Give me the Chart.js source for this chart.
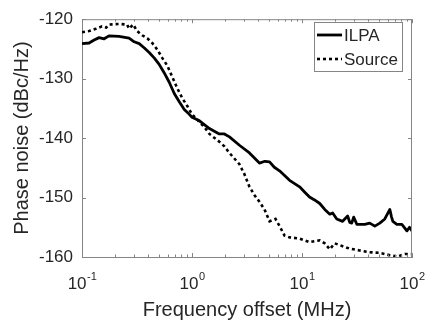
<!DOCTYPE html>
<html>
<head>
<meta charset="utf-8">
<script src="https://cdn.jsdelivr.net/npm/chart.js@4.4.1/dist/chart.umd.min.js"></script>
<style>
  html, body { margin: 0; padding: 0; background: #fff; }
  #wrap { width: 433px; height: 330px; }
</style>
</head>
<body>
<div id="wrap"><canvas id="pnChart" width="433" height="330"></canvas></div>
<script>
// data (MHz, dBc/Hz)
var freqILPA = [0.1, 0.116, 0.129, 0.143, 0.159, 0.176, 0.217, 0.268, 0.298, 0.331, 0.367, 0.408, 0.453, 0.503, 0.558, 0.621, 0.69, 0.766, 0.851, 0.945, 1.0, 1.17, 1.44, 1.77, 1.97, 2.19, 2.7, 3.33, 4.1, 4.6, 5.07, 5.6, 6.25, 7.71, 9.51, 10.6, 11.7, 13.0, 14.5, 16.1, 17.9, 19.0, 20.7, 23.4, 26.0, 27.2, 28.3, 29.5, 31.5, 37.2, 41.3, 45.9, 51.0, 56.6, 60.0, 62.9, 65.0, 67.0, 72.8, 80.9, 89.9, 95.0, 100]
var noiseILPA = [-124.1, -124.0, -123.5, -123.1, -123.3, -122.8, -122.9, -123.2, -123.8, -124.1, -124.8, -125.6, -126.5, -127.6, -129.0, -130.6, -132.5, -133.9, -135.2, -136.0, -136.5, -137.1, -138.4, -139.3, -139.3, -139.8, -141.2, -142.5, -144.2, -143.9, -144.0, -144.9, -145.5, -147.1, -148.2, -149.1, -149.9, -150.4, -151.0, -152.0, -152.8, -152.6, -153.6, -154.0, -153.1, -154.2, -154.3, -153.3, -154.5, -154.5, -154.3, -154.8, -154.3, -153.6, -152.7, -152.0, -153.2, -154.0, -154.5, -154.5, -155.6, -155.0, -155.6]

var freqSource = [0.1, 0.116, 0.134, 0.152, 0.166, 0.176, 0.217, 0.257, 0.268, 0.292, 0.317, 0.352, 0.392, 0.435, 0.483, 0.536, 0.596, 0.661, 0.734, 0.817, 0.906, 1.0, 1.29, 1.44, 1.77, 1.97, 2.19, 2.7, 3.0, 3.33, 3.7, 4.1, 4.56, 5.07, 5.74, 6.25, 6.94, 7.71, 9.51, 11.7, 14.5, 16.1, 17.9, 19.8, 22.0, 24.4, 27.2, 33.5, 41.3, 51.0, 62.9, 74.3, 86.1, 100]
var noiseSource = [-122.2, -122.0, -121.6, -121.2, -121.4, -120.9, -120.8, -120.9, -121.6, -120.9, -122.0, -122.7, -123.2, -124.0, -125.1, -126.5, -127.8, -129.7, -131.6, -133.3, -134.6, -136.0, -138.1, -139.3, -140.6, -141.4, -142.5, -144.4, -146.1, -148.2, -149.6, -150.7, -152.0, -154.0, -153.6, -154.8, -156.4, -156.7, -156.9, -157.5, -157.2, -157.7, -158.7, -157.7, -158.0, -158.3, -158.6, -158.9, -159.2, -159.3, -159.7, -159.9, -159.5, -159.5]

var xMajorTicks = [0.1, 1, 10, 100]
var xTickExponents = ["-1", "0", "1", "2"]
var yTicks = [-160, -150, -140, -130, -120]
var seriesNames = ["ILPA", "Source"]

var axisColor = "#858585"
var textColor = "#262626"
var fontFam = "'Liberation Sans', Arial, Helvetica, sans-serif"

function toPoints(xs, ys) {
  var pts = []
  for (var i = 0; i < xs.length; i++) pts.push({ x: xs[i], y: ys[i] })
  return pts
}

// MATLAB style box, inward ticks, 10^n labels and legend
var matlabAxes = {
  id: "matlabAxes",
  afterDraw: function (chart) {
    var c = chart.ctx
    var a = chart.chartArea
    var xs = chart.scales.x
    var ys = chart.scales.y
    c.save()
    c.strokeStyle = axisColor
    c.lineWidth = 1
    c.beginPath()
    c.moveTo(a.left, a.top + 0.5)
    c.lineTo(a.right - 0.5, a.top + 0.5)
    c.lineTo(a.right - 0.5, a.bottom)
    c.stroke()

    // x ticks (major + minor), bottom and top
    c.beginPath()
    for (var d = -1; d <= 2; d++) {
      for (var m = 1; m <= 9; m++) {
        var v = m * Math.pow(10, d)
        if (v > 100) break
        var px = Math.round(xs.getPixelForValue(v)) + 0.5
        var len = m === 1 ? 4 : 2.5
        c.moveTo(px, a.bottom)
        c.lineTo(px, a.bottom - len)
        c.moveTo(px, a.top)
        c.lineTo(px, a.top + len)
      }
    }
    // y ticks, left and right
    yTicks.forEach(function (t) {
      var py = Math.round(ys.getPixelForValue(t)) + 0.5
      c.moveTo(a.left, py)
      c.lineTo(a.left + 4, py)
      c.moveTo(a.right, py)
      c.lineTo(a.right - 4, py)
    })
    c.stroke()

    // x tick labels 10^n
    c.fillStyle = textColor
    c.textBaseline = "alphabetic"
    c.textAlign = "left"
    xMajorTicks.forEach(function (t, i) {
      var px = xs.getPixelForValue(t)
      c.font = "17px " + fontFam
      var wb = c.measureText("10").width
      c.font = "11px " + fontFam
      var we = c.measureText(xTickExponents[i]).width
      var x0 = px - (wb + we) / 2
      c.font = "17px " + fontFam
      c.fillText("10", x0, a.bottom + 32)
      c.font = "11px " + fontFam
      c.fillText(xTickExponents[i], x0 + wb + 0.5, a.bottom + 23)
    })

    // legend box
    var lx = 314, ly = 22, lw = 88, lh = 49
    c.fillStyle = "#fff"
    c.fillRect(lx, ly, lw, lh)
    c.strokeStyle = axisColor
    c.lineWidth = 1
    c.strokeRect(lx + 0.5, ly + 0.5, lw, lh)
    chart.data.datasets.forEach(function (ds, i) {
      var yy = ly + 13 + i * 24
      c.strokeStyle = ds.borderColor
      c.lineWidth = ds.borderWidth
      c.setLineDash(ds.borderDash || [])
      c.beginPath()
      c.moveTo(317, yy)
      c.lineTo(342, yy)
      c.stroke()
      c.setLineDash([])
      c.fillStyle = textColor
      c.font = "17px " + fontFam
      c.textBaseline = "middle"
      c.fillText(seriesNames[i], 344, yy + 1)
    })
    c.restore()
  },
}

var ctx = document.getElementById("pnChart")
var chart_pn = new Chart(ctx, {
  type: "line",
  plugins: [matlabAxes],
  data: {
    datasets: [
      {
        label: seriesNames[0],
        data: toPoints(freqILPA, noiseILPA),
        borderColor: "#000",
        borderWidth: 2.8,
        borderJoinStyle: "round",
        pointRadius: 0,
        tension: 0,
      },
      {
        label: seriesNames[1],
        data: toPoints(freqSource, noiseSource),
        borderColor: "#000",
        borderWidth: 2.6,
        borderDash: [3, 3],
        pointRadius: 0,
        tension: 0,
      },
    ],
  },
  options: {
    responsive: false,
    animation: false,
    layout: { padding: { top: 12, right: 21, left: 0, bottom: 0 } },
    plugins: {
      legend: { display: false },
      tooltip: { enabled: false },
    },
    scales: {
      x: {
        type: "logarithmic",
        min: 0.1,
        max: 100,
        ticks: { display: false },
        grid: { drawOnChartArea: false, drawTicks: false },
        border: { color: axisColor },
        title: {
          display: true,
          text: "Frequency offset (MHz)",
          color: textColor,
          font: { family: fontFam, size: 20 },
          padding: { top: 0, bottom: 8 },
        },
        afterFit: function (scale) {
          scale.height = 73
        },
      },
      y: {
        min: -160,
        max: -120,
        afterBuildTicks: function (scale) {
          scale.ticks = yTicks.map(function (v) { return { value: v } })
        },
        ticks: {
          color: textColor,
          padding: 9,
          font: { family: fontFam, size: 17 },
        },
        grid: { drawOnChartArea: false, drawTicks: false },
        border: { color: axisColor },
        title: {
          display: true,
          text: "Phase noise (dBc/Hz)",
          color: textColor,
          font: { family: fontFam, size: 20 },
          padding: { top: 10, bottom: 0 },
        },
        afterFit: function (scale) {
          scale.width = 82
        },
      },
    },
  },
})
</script>
</body>
</html>
